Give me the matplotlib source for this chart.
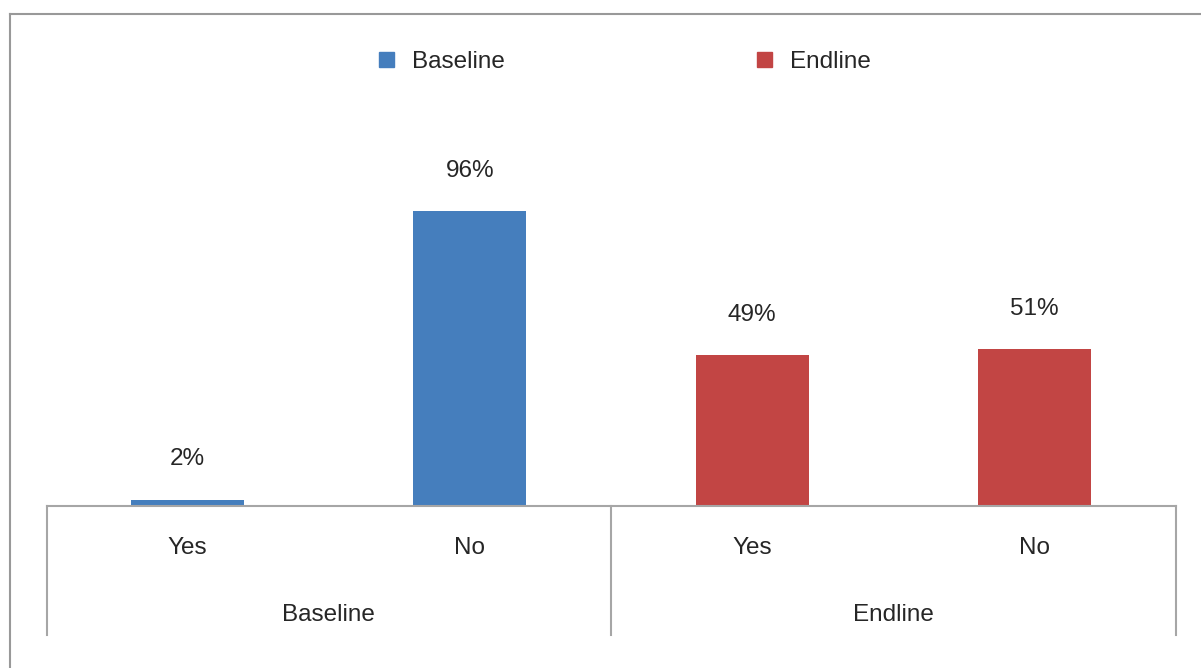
import matplotlib
matplotlib.use("Agg")
import matplotlib.pyplot as plt
from matplotlib.patches import Patch
from matplotlib.lines import Line2D

plt.rcParams['font.family'] = ['Liberation Sans', 'DejaVu Sans']

groups = ["Baseline", "Endline"]
answers = ["Yes", "No"]
baseline_values = [2, 96]
endline_values = [49, 51]
value_labels = ["2%", "96%", "49%", "51%"]

blue = "#457EBD"
red = "#C24544"
grey = "#A6A6A6"
text_col = "#262626"
fs = 17.5

W, H = 1201, 668
fig = plt.figure(figsize=(W / 100, H / 100), dpi=100)

# plot area in pixel terms
x0, x1 = 46.5, 1175.7
y_axis = 505.7
ymax = 110
px_per_unit = 3.07
ax_h = ymax * px_per_unit
ax = fig.add_axes([x0 / W, (H - y_axis) / H, (x1 - x0) / W, ax_h / H])

values = baseline_values + endline_values
colors = [blue] * len(baseline_values) + [red] * len(endline_values)
positions = list(range(len(values)))
bars = ax.bar(positions, values, width=0.4, color=colors, zorder=2)

for b, lab in zip(bars, value_labels):
    ax.annotate(lab, (b.get_x() + b.get_width() / 2, b.get_height()),
                xytext=(0, 29), textcoords="offset points",
                ha="center", va="center", fontsize=fs, color=text_col)

ax.set_xlim(-0.5, len(values) - 0.5)
ax.set_ylim(0, ymax)
for s in ["top", "right", "left"]:
    ax.spines[s].set_visible(False)
ax.spines["bottom"].set_color(grey)
ax.spines["bottom"].set_linewidth(1.5)
ax.set_yticks([])
ax.set_xticks([])

# two-level category axis
trans = ax.get_xaxis_transform()
def ax_y(py):
    return (y_axis - py) / ax_h

for i, p in enumerate(positions):
    ax.text(p, ax_y(548), answers[i % 2], transform=trans, ha="center",
            va="center", fontsize=fs, color=text_col)
for g, name in enumerate(groups):
    ax.text(2 * g + 0.5, ax_y(615), name, transform=trans, ha="center",
            va="center", fontsize=fs, color=text_col)
for xd in [-0.5, 1.5, 3.5]:
    ax.add_line(Line2D([xd, xd], [0, ax_y(635)], transform=trans, color=grey,
                       lw=1.5, clip_on=False))

# legend
handles = [Patch(color=blue, label="Baseline"), Patch(color=red, label="Endline")]
fig.legend(handles=handles, loc="center", bbox_to_anchor=(625 / W, 1 - 62 / H),
           ncol=2, frameon=False, fontsize=fs, handlelength=0.62,
           handleheight=0.62, handletextpad=0.74, columnspacing=10.4,
           labelcolor=text_col)

# chart border (left and top edges)
fig.add_artist(Line2D([9.5 / W, 9.5 / W], [0, 1 - 14 / H], color="#999999", lw=1.5))
fig.add_artist(Line2D([9.5 / W, 1], [1 - 14 / H, 1 - 14 / H], color="#999999", lw=1.5))

fig.savefig("out.png", dpi=100, facecolor="white")
